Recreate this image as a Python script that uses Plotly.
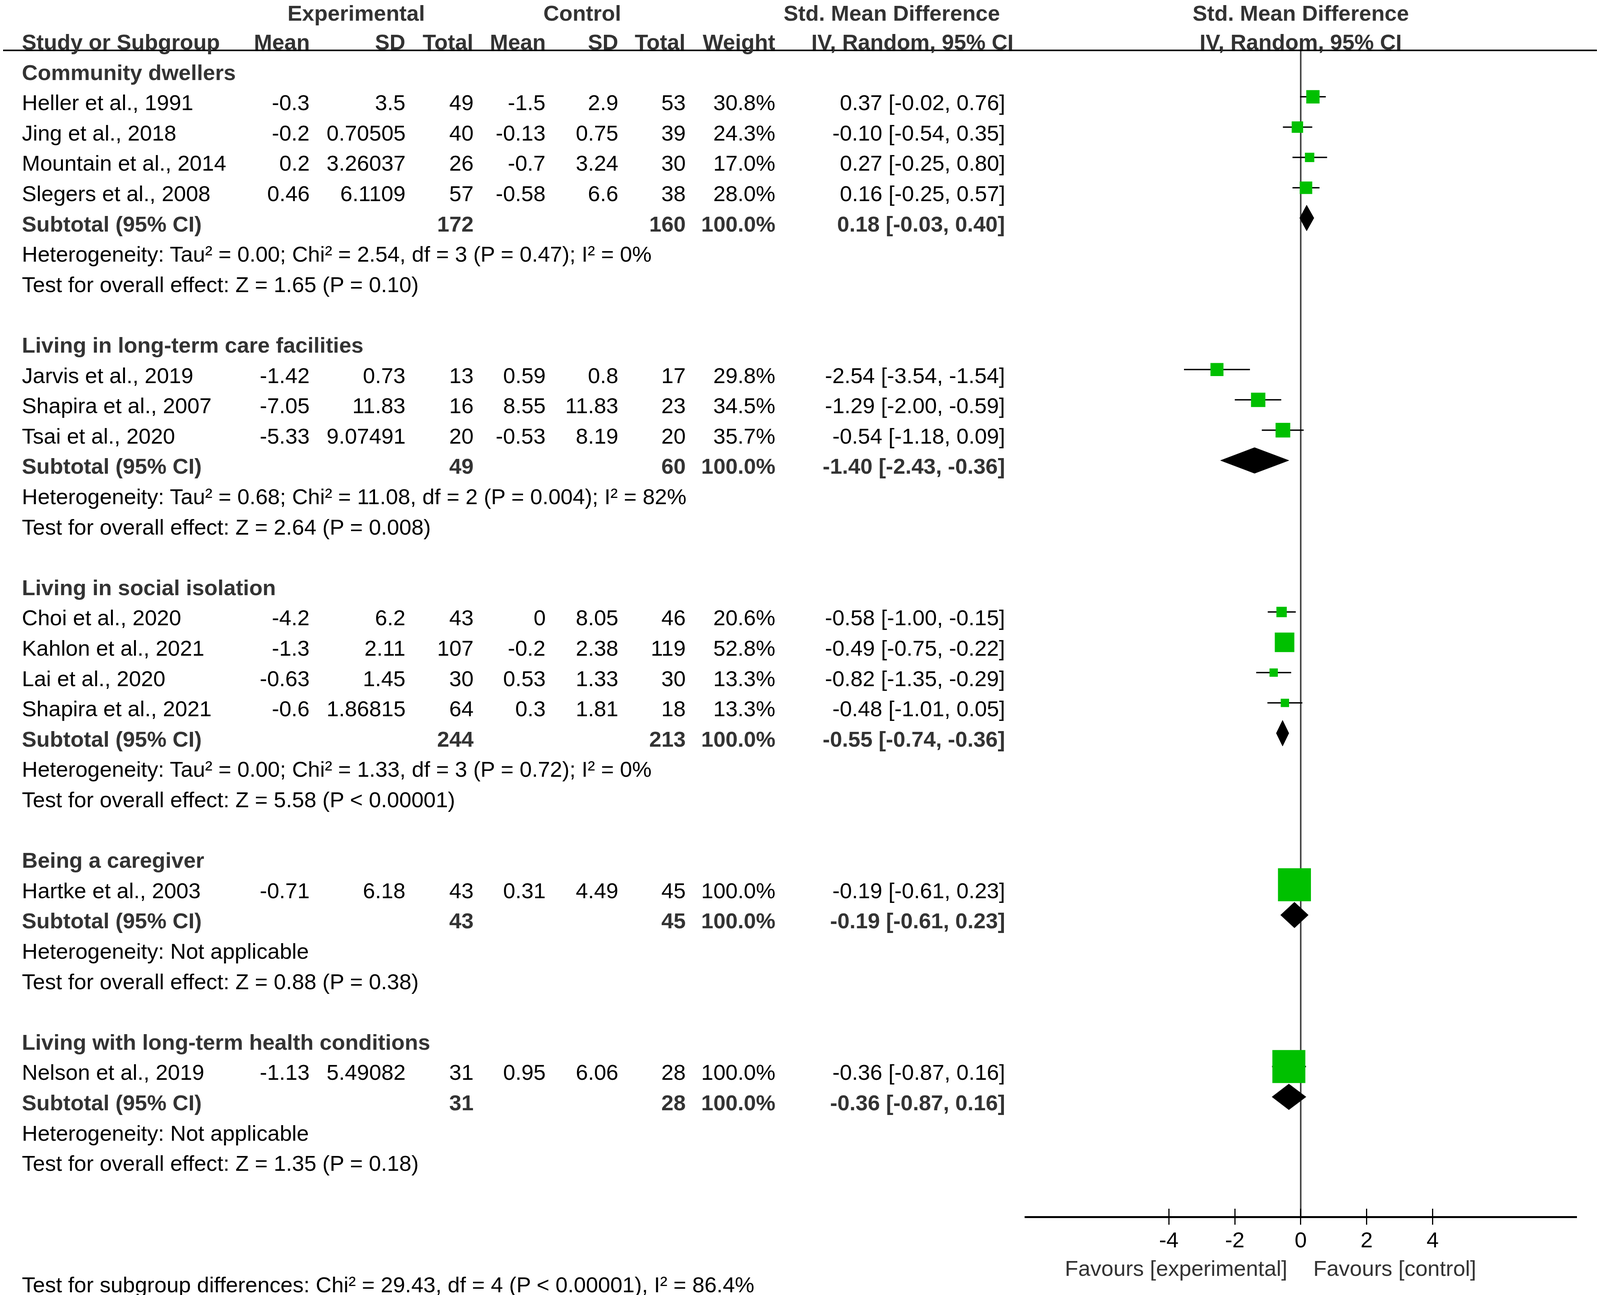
import plotly.graph_objects as go

# --- data ---
groups = ["Community dwellers", "Living in long-term care facilities",
          "Living in social isolation", "Being a caregiver",
          "Living with long-term health conditions"]

studies = ["Heller et al., 1991", "Jing et al., 2018", "Mountain et al., 2014", "Slegers et al., 2008",
           "Jarvis et al., 2019", "Shapira et al., 2007", "Tsai et al., 2020",
           "Choi et al., 2020", "Kahlon et al., 2021", "Lai et al., 2020", "Shapira et al., 2021",
           "Hartke et al., 2003",
           "Nelson et al., 2019"]
study_group = [0, 0, 0, 0, 1, 1, 1, 2, 2, 2, 2, 3, 4]

exp_mean = [-0.3, -0.2, 0.2, 0.46, -1.42, -7.05, -5.33, -4.2, -1.3, -0.63, -0.6, -0.71, -1.13]
exp_sd = [3.5, 0.70505, 3.26037, 6.1109, 0.73, 11.83, 9.07491, 6.2, 2.11, 1.45, 1.86815, 6.18, 5.49082]
exp_n = [49, 40, 26, 57, 13, 16, 20, 43, 107, 30, 64, 43, 31]
ctl_mean = [-1.5, -0.13, -0.7, -0.58, 0.59, 8.55, -0.53, 0, -0.2, 0.53, 0.3, 0.31, 0.95]
ctl_sd = [2.9, 0.75, 3.24, 6.6, 0.8, 11.83, 8.19, 8.05, 2.38, 1.33, 1.81, 4.49, 6.06]
ctl_n = [53, 39, 30, 38, 17, 23, 20, 46, 119, 30, 18, 45, 28]
weight = [30.8, 24.3, 17.0, 28.0, 29.8, 34.5, 35.7, 20.6, 52.8, 13.3, 13.3, 100.0, 100.0]
smd = [0.37, -0.10, 0.27, 0.16, -2.54, -1.29, -0.54, -0.58, -0.49, -0.82, -0.48, -0.19, -0.36]
smd_lo = [-0.02, -0.54, -0.25, -0.25, -3.54, -2.00, -1.18, -1.00, -0.75, -1.35, -1.01, -0.61, -0.87]
smd_hi = [0.76, 0.35, 0.80, 0.57, -1.54, -0.59, 0.09, -0.15, -0.22, -0.29, 0.05, 0.23, 0.16]

sub_exp_n = [172, 49, 244, 43, 31]
sub_ctl_n = [160, 60, 213, 45, 28]
sub_smd = [0.18, -1.40, -0.55, -0.19, -0.36]
sub_lo = [-0.03, -2.43, -0.74, -0.61, -0.87]
sub_hi = [0.40, -0.36, -0.36, 0.23, 0.16]
heterogeneity = [
    "Heterogeneity: Tau² = 0.00; Chi² = 2.54, df = 3 (P = 0.47); I² = 0%",
    "Heterogeneity: Tau² = 0.68; Chi² = 11.08, df = 2 (P = 0.004); I² = 82%",
    "Heterogeneity: Tau² = 0.00; Chi² = 1.33, df = 3 (P = 0.72); I² = 0%",
    "Heterogeneity: Not applicable",
    "Heterogeneity: Not applicable",
]
overall_test = [
    "Test for overall effect: Z = 1.65 (P = 0.10)",
    "Test for overall effect: Z = 2.64 (P = 0.008)",
    "Test for overall effect: Z = 5.58 (P < 0.00001)",
    "Test for overall effect: Z = 0.88 (P = 0.38)",
    "Test for overall effect: Z = 1.35 (P = 0.18)",
]
subgroup_test = "Test for subgroup differences: Chi² = 29.43, df = 4 (P < 0.00001), I² = 86.4%"

x_ticks = [-4, -2, 0, 2, 4]

# --- layout ---
# positions were measured on the 4317 px wide reference; the browser viewport
# is only 4096 px wide, so horizontal positions get squeezed by SX.
REF_W = 4317
W, H = 4096, 3316
SX = W / REF_W
OFF = 8                    # default body margin of the html page
FONT = "Arial, Liberation Sans, sans-serif"
FS = 56
ROW0, ROW_PX = 185, 77.6   # page y of the first row and row pitch
MARK_SHIFT = 0.19          # boxes sit slightly above the text line
DIAMOND_HALF = 0.425       # half height of the summary diamonds, in rows
GREEN = "rgb(0,192,0)"


def fx(px):
    # reference x pixel -> paper fraction
    return (px * SX - OFF) / W


def row_of(py):
    # reference y pixel -> row units
    return (py - ROW0) / ROW_PX


col = {  # column edges (right aligned except the study column)
    "study": fx(57), "e_mean": fx(838), "e_sd": fx(1096), "e_n": fx(1279),
    "c_mean": fx(1474), "c_sd": fx(1670), "c_n": fx(1852), "w": fx(2094),
    "ci": fx(2714), "ci_head": fx(2737),
}

annotations = []


def txt(x, y, s, anchor="right", bold=False, xref="paper", color="#000000", size=FS):
    annotations.append(dict(
        x=x, y=y, xref=xref, yref="y", text=f"<b>{s}</b>" if bold else s,
        showarrow=False, xanchor=anchor, yanchor="middle",
        font=dict(family=FONT, size=size, color="#333333" if bold else color)))


# headers
top_head = -1.95
txt(fx(961), top_head, "Experimental", "center", True)
txt(fx(1571), top_head, "Control", "center", True)
txt(fx(2406), top_head, "Std. Mean Difference", "center", True)
txt(0, top_head, "Std. Mean Difference", "center", True, xref="x")
txt(col["study"], -1, "Study or Subgroup", "left", True)
for key, label in [("e_mean", "Mean"), ("e_sd", "SD"), ("e_n", "Total"), ("c_mean", "Mean"),
                   ("c_sd", "SD"), ("c_n", "Total"), ("w", "Weight")]:
    txt(col[key], -1, label, "right", True)
txt(col["ci_head"], -1, "IV, Random, 95% CI", "right", True)
txt(0, -1, "IV, Random, 95% CI", "center", True, xref="x")

# rows
study_rows = []
sub_rows = []
r = 0
for g, name in enumerate(groups):
    txt(col["study"], r, name, "left", True)
    members = [i for i, sg in enumerate(study_group) if sg == g]
    for i in members:
        r += 1
        study_rows.append(r)
        txt(col["study"], r, studies[i], "left")
        txt(col["e_mean"], r, f"{exp_mean[i]:g}")
        txt(col["e_sd"], r, f"{exp_sd[i]:g}")
        txt(col["e_n"], r, f"{exp_n[i]}")
        txt(col["c_mean"], r, f"{ctl_mean[i]:g}")
        txt(col["c_sd"], r, f"{ctl_sd[i]:g}")
        txt(col["c_n"], r, f"{ctl_n[i]}")
        txt(col["w"], r, f"{weight[i]:.1f}%")
        txt(col["ci"], r, f"{smd[i]:.2f} [{smd_lo[i]:.2f}, {smd_hi[i]:.2f}]")
    r += 1
    sub_rows.append(r)
    txt(col["study"], r, "Subtotal (95% CI)", "left", True)
    txt(col["e_n"], r, f"{sub_exp_n[g]}", "right", True)
    txt(col["c_n"], r, f"{sub_ctl_n[g]}", "right", True)
    txt(col["w"], r, "100.0%", "right", True)
    txt(col["ci"], r, f"{sub_smd[g]:.2f} [{sub_lo[g]:.2f}, {sub_hi[g]:.2f}]", "right", True)
    r += 1
    txt(col["study"], r, heterogeneity[g], "left")
    r += 1
    txt(col["study"], r, overall_test[g], "left")
    r += 2

header_row = row_of(129)
axis_row = row_of(3116)

txt(col["study"], row_of(3289), subgroup_test, "left")
txt(0, row_of(3247), "Favours [experimental]", "right", xref="x", color="#333333")
txt(0, row_of(3247), "Favours [control]", "left", xref="x", color="#333333")
annotations[-2]["xshift"] = -32
annotations[-1]["xshift"] = 30

fig = go.Figure()

# confidence interval whiskers
ci_x, ci_y = [], []
for i, row in enumerate(study_rows):
    ci_x += [smd_lo[i], smd_hi[i], None]
    ci_y += [row - MARK_SHIFT, row - MARK_SHIFT, None]
fig.add_trace(go.Scatter(x=ci_x, y=ci_y, mode="lines", line=dict(color="black", width=3.5),
                         hoverinfo="skip", showlegend=False))

# weighted boxes
fig.add_trace(go.Scatter(
    x=smd, y=[row - MARK_SHIFT for row in study_rows], mode="markers",
    marker=dict(symbol="square", color=GREEN, opacity=1, line=dict(width=0),
                size=[(12 + 0.75 * w) * 0.97 for w in weight]),
    showlegend=False))

# subtotal diamonds
dx, dy = [], []
for g, row in enumerate(sub_rows):
    yc = row - MARK_SHIFT
    dx += [sub_lo[g], sub_smd[g], sub_hi[g], sub_smd[g], sub_lo[g], None]
    dy += [yc, yc - DIAMOND_HALF, yc, yc + DIAMOND_HALF, yc, None]
fig.add_trace(go.Scatter(x=dx, y=dy, mode="lines", fill="toself", fillcolor="black",
                         line=dict(color="black", width=1), showlegend=False, xaxis="x2"))

axis_pos = 1 - (3116 - OFF) / H

fig.update_layout(
    width=W, height=H,
    margin=dict(l=0, r=0, t=0, b=0),
    paper_bgcolor="white", plot_bgcolor="white",
    # x carries the line, the upper half of each tick and the labels
    xaxis=dict(domain=[fx(2764), fx(4255)], range=[-8.38, 8.38], anchor="free", position=axis_pos,
               showgrid=False, zeroline=False,
               showline=True, linecolor="black", linewidth=5,
               ticks="inside", ticklen=19, tickwidth=3, tickcolor="black",
               tickvals=x_ticks, ticktext=[str(t) for t in x_ticks],
               tickfont=dict(family=FONT, size=FS, color="black"), ticklabelstandoff=8),
    # x2 only adds the lower half of each tick
    xaxis2=dict(overlaying="x", matches="x", anchor="free", position=axis_pos, side="bottom",
                showgrid=False, zeroline=False, showline=False, ticks="outside", ticklen=19,
                tickwidth=3, tickcolor="black", tickvals=x_ticks, showticklabels=False),
    yaxis=dict(domain=[0, 1], range=[row_of(OFF + H), row_of(OFF)], visible=False),
    annotations=annotations,
    shapes=[
        # rule under the column headers
        dict(type="line", xref="paper", yref="y", x0=0, x1=fx(4309), y0=header_row, y1=header_row,
             line=dict(color="black", width=4)),
        # line of no effect
        dict(type="line", xref="x", yref="y", x0=0, x1=0, y0=header_row, y1=axis_row,
             line=dict(color="#444444", width=4), layer="below"),
    ],
)

fig.write_html("out.html")
